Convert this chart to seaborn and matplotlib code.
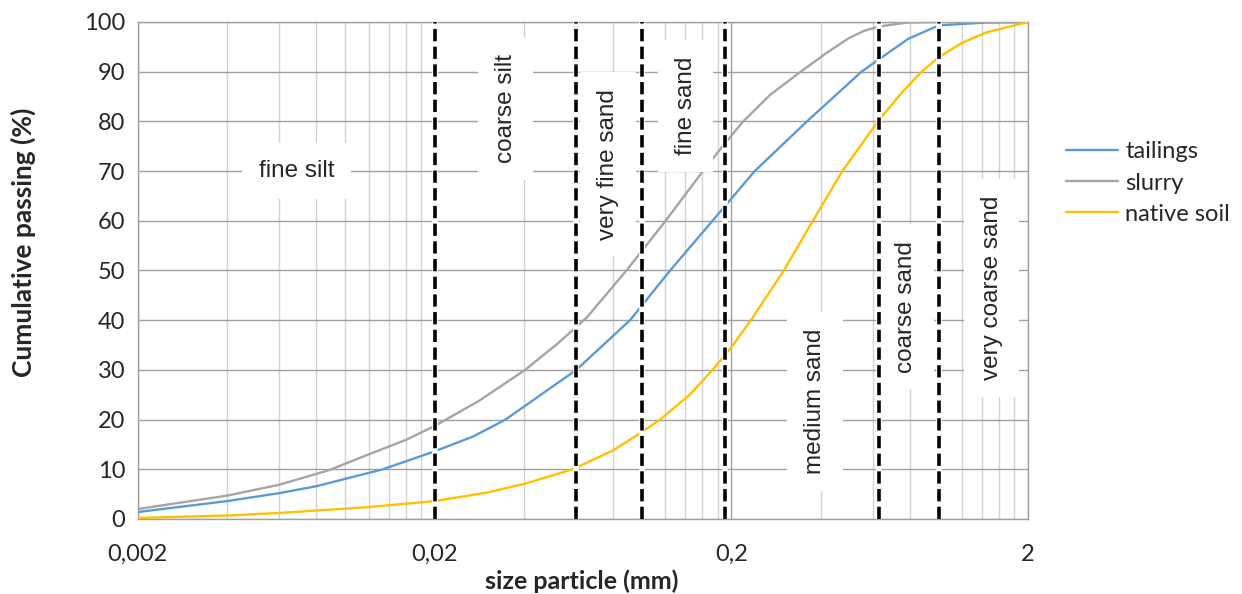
import matplotlib
matplotlib.use("Agg")
import matplotlib.pyplot as plt
import seaborn as sns
import pandas as pd

# particle size (mm) and cumulative passing (%)
tailings_size = [0.002, 0.004, 0.006, 0.008, 0.0134, 0.02, 0.027, 0.0347, 0.0601,
                 0.0912, 0.1245, 0.173, 0.24, 0.36, 0.55, 0.63, 0.79, 1.0, 1.45, 2.0]
tailings = [1.4, 3.6, 5.2, 6.6, 10.0, 13.6, 16.6, 20.0, 30.0,
            40.0, 50.0, 60.0, 70.0, 80.0, 90.0, 92.5, 96.6, 99.3, 99.9, 100.0]

slurry_size = [0.002, 0.004, 0.006, 0.0088, 0.012, 0.016, 0.02, 0.0283, 0.0404,
               0.052, 0.0651, 0.0887, 0.1202, 0.1606, 0.19, 0.2196, 0.27, 0.343,
               0.42, 0.5, 0.56, 0.63, 0.79, 1.0, 2.0]
slurry = [2.0, 4.7, 6.9, 9.8, 13.0, 15.9, 18.7, 23.8, 30.0,
          35.3, 40.5, 50.0, 60.0, 70.0, 75.5, 80.0, 85.3, 90.0,
          93.8, 96.8, 98.2, 99.1, 99.9, 100.0, 100.0]

native_size = [0.002, 0.004, 0.006, 0.008, 0.012, 0.02, 0.03, 0.0404, 0.0584,
               0.08, 0.1, 0.1151, 0.145, 0.173, 0.2, 0.233, 0.301, 0.377, 0.474,
               0.63, 0.75, 0.87, 1.0, 1.2, 1.45, 2.0]
native_soil = [0.2, 0.7, 1.2, 1.7, 2.4, 3.6, 5.3, 7.1, 10.0,
               13.8, 17.5, 20.0, 25.0, 30.0, 34.5, 40.0, 50.0, 60.0, 70.0,
               80.3, 85.7, 89.8, 92.9, 95.8, 97.9, 100.0]

series_names = ["tailings", "slurry", "native soil"]
series_colors = ["#5B9BD5", "#A5A5A5", "#FFC000"]

# class boundaries (mm)
boundaries = [0.02, 0.06, 0.1, 0.19, 0.63, 1.0]

# class labels: text, x (mm), y (%), rotation
class_labels = ["fine silt", "coarse silt", "very fine sand", "fine sand",
                "medium sand", "coarse sand", "very coarse sand"]
class_x = [0.00687, 0.0347, 0.0769, 0.1403, 0.383, 0.775, 1.51]
class_y = [70, 82.5, 71.4, 83.1, 23.7, 42.7, 46.5]
class_rot = [0, 90, 90, 90, 90, 90, 90]

x_ticks = [0.002, 0.02, 0.2, 2]
x_tick_labels = ["0,002", "0,02", "0,2", "2"]

df = pd.concat([
    pd.DataFrame({"size": tailings_size, "passing": tailings, "series": "tailings"}),
    pd.DataFrame({"size": slurry_size, "passing": slurry, "series": "slurry"}),
    pd.DataFrame({"size": native_size, "passing": native_soil, "series": "native soil"}),
], ignore_index=True)

sns.set_theme(style="white")
plt.rcParams["font.family"] = ["Lato", "DejaVu Sans"]

fig = plt.figure(figsize=(12.42, 5.94), dpi=100)
ax = fig.add_axes([0.111, 0.1263, 0.7166, 0.8367])

sns.lineplot(data=df, x="size", y="passing", hue="series", hue_order=series_names,
             palette=series_colors, linewidth=1.7, ax=ax, zorder=3,
             estimator=None)

ax.set_xscale("log")
ax.set_xlim(0.002, 2)
ax.set_ylim(0, 100)

minor = [m * k for m in x_ticks[:-1] for k in range(2, 10)]
ax.set_xticks(x_ticks)
ax.set_xticklabels(x_tick_labels)
ax.set_xticks(minor, minor=True)
ax.set_xticklabels([], minor=True)
ax.set_yticks(range(0, 101, 10))

ax.grid(which="major", color="#a0a0a0", linewidth=1, zorder=0)
ax.grid(which="minor", axis="x", color="#d3d3d3", linewidth=1, zorder=0)
ax.set_axisbelow(True)
for s in ax.spines.values():
    s.set_color("#a0a0a0")
    s.set_linewidth(1)

ax.tick_params(axis="x", which="major", length=6, color="#a0a0a0", labelsize=17, pad=12)
ax.tick_params(axis="x", which="minor", length=0)
ax.tick_params(axis="y", length=0, labelsize=17, pad=9)

# class boundaries: dashed black on white
for b in boundaries:
    ax.axvline(b, color="white", linewidth=4, zorder=5)
    ax.axvline(b, color="black", linewidth=2.6, linestyle=(0, (3.4, 1.5)), zorder=6)

for t, x, y, r in zip(class_labels, class_x, class_y, class_rot):
    ax.text(x, y, t, rotation=r, ha="center", va="center", fontsize=17.5,
            family=["Liberation Sans", "DejaVu Sans"], zorder=4,
            bbox=dict(facecolor="white", edgecolor="none", pad=12))

ax.set_xlabel("")
ax.set_ylabel("")
fig.text(582 / 1242, 1 - 581 / 594, "size particle (mm)", fontsize=18,
         fontweight="bold", ha="center", va="center")
fig.text(23 / 1242, 1 - 242 / 594, "Cumulative passing (%)", fontsize=19,
         fontweight="bold", ha="center", va="center", rotation=90)

handles, labels = ax.get_legend_handles_labels()
ax.legend(handles, labels, loc="center left", bbox_to_anchor=(1.043, 0.676),
          frameon=False, fontsize=17, handlelength=2.2, handletextpad=0.3,
          borderpad=0, borderaxespad=0, labelspacing=0.43)

fig.savefig("out.png", dpi=100)
plt.close(fig)
